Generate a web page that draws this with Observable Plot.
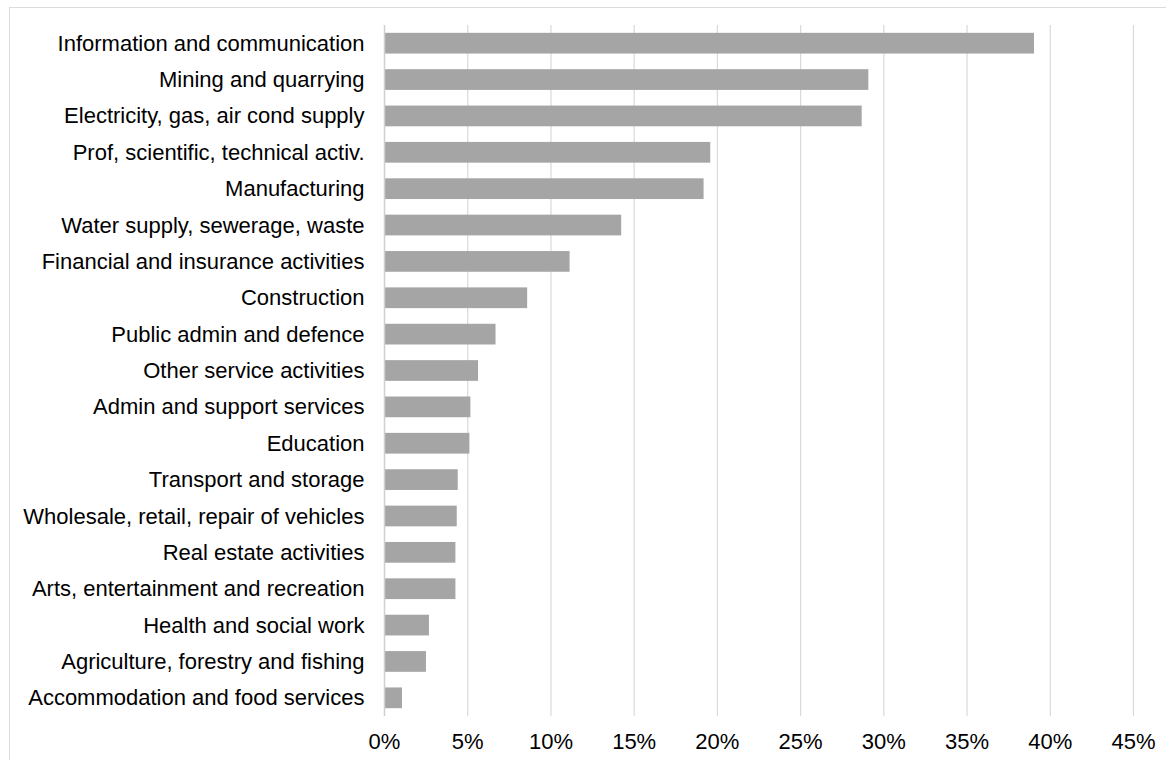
<!DOCTYPE html>
<html>
<head>
<meta charset="utf-8">
<script src="https://cdn.jsdelivr.net/npm/d3@7"></script>
<script src="https://cdn.jsdelivr.net/npm/@observablehq/plot@0.6"></script>
<style>
  html, body { margin: 0; padding: 0; background: #fff; overflow: hidden; width: 1166px; height: 760px; }
  #frame { position: absolute; left: 9px; top: 7px; width: 1300px; height: 900px; border-left: 1.5px solid #dcdcdc; border-top: 1.5px solid #dcdcdc; }
  #chart { position: absolute; left: 0; top: 0; }
</style>
</head>
<body>
<div id="frame"></div>
<div id="chart"></div>
<script>
const categories = [
  "Information and communication",
  "Mining and quarrying",
  "Electricity, gas, air cond supply",
  "Prof, scientific, technical activ.",
  "Manufacturing",
  "Water supply, sewerage, waste",
  "Financial and insurance activities",
  "Construction",
  "Public admin and defence",
  "Other service activities",
  "Admin and support services",
  "Education",
  "Transport and storage",
  "Wholesale, retail, repair of vehicles",
  "Real estate activities",
  "Arts, entertainment and recreation",
  "Health and social work",
  "Agriculture, forestry and fishing",
  "Accommodation and food services"
];
const values = [39.05, 29.1, 28.7, 19.6, 19.2, 14.25, 11.15, 8.6, 6.7, 5.65, 5.19, 5.13, 4.43, 4.37, 4.29, 4.29, 2.70, 2.52, 1.08];
const xTicks = [0, 5, 10, 15, 20, 25, 30, 35, 40, 45];

const data = categories.map((c, i) => ({ category: c, value: values[i] / 100 }));
const tickVals = xTicks.map(t => t / 100);
const fmt = d => Math.round(d * 100) + "%";

const chart = Plot.plot({
  width: 1166,
  height: 760,
  marginLeft: 384,
  marginRight: 33,
  marginTop: 25,
  marginBottom: 44,
  style: { fontFamily: "Arial, 'Liberation Sans', sans-serif", fontSize: "22px", color: "#000", background: "transparent" },
  x: { domain: [0, 0.45], ticks: tickVals, tickFormat: fmt, label: null },
  y: { domain: categories, paddingInner: 0.43, paddingOuter: 0.215, round: false, label: null },
  marks: [
    Plot.ruleX(tickVals.filter(t => t > 0), { stroke: "#d9d9d9", strokeWidth: 1.2 }),
    Plot.barX(data, { x: "value", y: "category", fill: "#a5a5a5" }),
    Plot.ruleX([0], { stroke: "#d0d0d0", strokeWidth: 1.5 }),
    Plot.axisY({ tickSize: 0, tickPadding: 20, fontSize: "22px", label: null }),
    Plot.axisX({ ticks: tickVals, tickSize: 0, tickPadding: 17, fontSize: "22px", label: null, tickFormat: fmt })
  ]
});
document.getElementById("chart").appendChild(chart);
</script>
</body>
</html>
